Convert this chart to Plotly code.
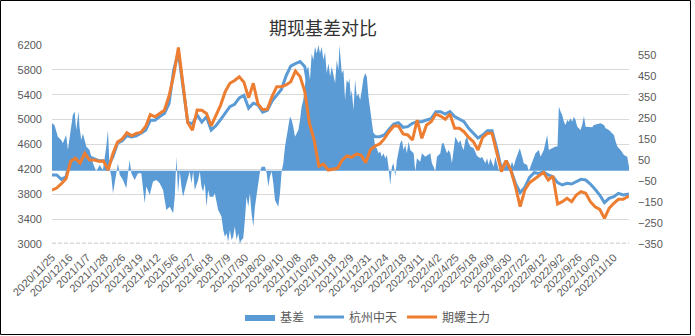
import plotly.graph_objects as go

# ---------------- data ----------------
tick_labels = ["2020/11/25", "2020/12/16", "2021/1/7", "2021/1/28", "2021/2/26", "2021/3/19",
               "2021/4/12", "2021/5/6", "2021/5/27", "2021/6/18", "2021/7/9", "2021/7/30",
               "2021/8/20", "2021/9/10", "2021/10/8", "2021/10/28", "2021/11/18", "2021/12/9",
               "2021/12/31", "2022/1/24", "2022/2/18", "2022/3/11", "2022/4/2", "2022/4/25",
               "2022/5/18", "2022/6/9", "2022/6/30", "2022/7/22", "2022/8/12", "2022/9/2",
               "2022/9/26", "2022/10/20", "2022/11/10"]
tick_pos = [i * 15 for i in range(len(tick_labels))]   # category index of each label
n_days = 494

# trading-day index of sampled line points
line_idx = list(range(0, 493, 4)) + [493]

futures = [3868, 3900, 3970, 4050, 4330, 4380, 4300, 4458, 4350, 4351, 4330, 4335, 4190, 4450,
           4640, 4690, 4790, 4740, 4780, 4795, 4890, 5080, 5045, 5100, 5150, 5380, 5720, 6160,
           5590, 4950, 4830, 5155, 5150, 5100, 4900, 5080, 5230, 5450, 5584, 5630, 5690, 5600,
           5350, 5584, 5250, 5160, 5170, 5370, 5530, 5530, 5557, 5610, 5780, 5691, 5450, 4940,
           4672, 4254, 4286, 4190, 4200, 4217, 4351, 4415, 4394, 4447, 4431, 4308, 4512, 4576,
           4608, 4694, 4806, 4898, 4898, 4769, 4753, 4672, 4994, 4699, 4914, 4967, 5090, 5058,
           5005, 5090, 4860, 4860, 4806, 4715, 4646, 4512, 4715, 4780, 4780, 4469, 4163, 4340,
           4190, 3922, 3600, 3868, 3986, 4040, 4093, 4152, 4029, 4093, 3643, 3681, 3734, 3681,
           3788, 3842, 3815, 3681, 3600, 3557, 3413, 3574, 3654, 3718, 3718, 3761, 3772]

spot = [4110, 4110, 4040, 4080, 4380, 4420, 4380, 4500, 4400, 4370, 4340, 4340, 4250, 4400,
        4620, 4660, 4740, 4720, 4740, 4780, 4830, 4990, 4990, 5048, 5100, 5260, 5800, 6080,
        5550, 4960, 4930, 5075, 4960, 5048, 4830, 4900, 5000, 5100, 5209, 5245, 5350, 5390,
        5185, 5265, 5235, 5120, 5150, 5300, 5390, 5486, 5703, 5860, 5900, 5933, 5851, 5405,
        5232, 4846, 4830, 4694, 4640, 4745, 4824, 4848, 4779, 4800, 4784, 4773, 4802, 4726,
        4726, 4753, 4844, 4930, 4951, 4876, 4887, 4940, 4967, 4967, 4994, 5015, 5128, 5128,
        5090, 5128, 5048, 5005, 4967, 4860, 4790, 4705, 4753, 4822, 4822, 4538, 4201, 4340,
        4190, 3976, 3826, 3911, 4072, 4147, 4136, 4158, 4110, 4083, 3986, 3949, 3976, 3965,
        4002, 4040, 4029, 3965, 3880, 3788, 3665, 3734, 3761, 3815, 3788, 3804, 3804]

basis_idx = [0, 2.1, 5, 7.8, 9.3, 12.1, 13.6, 15, 17.8, 19.3, 20.7, 22.7, 23.5, 25, 26.4, 29.3,
             32.1, 35, 36.4, 37.8, 40.7, 43.5, 46.4, 47.8, 49.2, 50.7, 52.1, 54.9, 56.4, 57.8,
             60.6, 63.5, 66.3, 67.8, 70.6, 73.5, 76.3, 79.2, 80.6, 83.5, 86.3, 89.2, 92, 94.9,
             97.7, 100.6, 103.5, 104.9, 106.3, 107.7, 109.2, 110.6, 112, 114.9, 117.7, 119.1,
             120.6, 122, 124.9, 126.3, 127.7, 129.1, 130.6, 132, 133.4, 134.8, 137.7, 139.1,
             140.5, 142, 144.8, 146.3, 147.7, 149.1, 150.5, 152, 153.4, 154.8, 156.2, 157.7,
             159.1, 160.5, 161.9, 163.4, 164.8, 166.2, 167.7, 169.1, 170.5, 172, 173.4, 174.8,
             176.2, 177.7, 179.1, 182, 183.4, 184.8, 186.2, 187.7, 189.1, 190.5, 193.3, 194.8,
             196.2, 197.6, 199.1, 200.5, 201.9, 203.3, 204.8, 206.2, 207.6, 210.5, 211.9, 213.3,
             214.7, 216.2, 217.6, 219, 220.4, 221.9, 223.3, 224.7, 226.2, 227.6, 229, 230.4,
             231.9, 233.3, 234.7, 236.2, 237.6, 239, 240.4, 241.9, 243.3, 244.7, 245.6, 246.7,
             247.6, 249, 250.4, 251.8, 253.3, 254.1, 255.3, 256.1, 257.6, 259, 260.4, 261.8,
             263.3, 264.7, 266.1, 267.6, 269, 270.4, 271.8, 273.3, 274.7, 276.1, 277.5, 279,
             280.4, 281.8, 283.3, 284.7, 286.1, 287.5, 289, 290.4, 291.8, 293.3, 294.7, 296.1,
             297.5, 299, 300.4, 301.8, 303.2, 304.7, 306.1, 309, 310.4, 311.8, 314.6, 316.1,
             318.9, 323.2, 324.6, 326, 327.5, 328.9, 331.8, 333.2, 334.6, 336, 337.5, 338.9,
             340.3, 341.7, 343.2, 344.6, 347.5, 348.9, 350.3, 351.7, 353.2, 354.6, 356, 357.5,
             360.3, 363.2, 366, 367.4, 370.3, 371.7, 373.1, 374.5, 377.4, 378.8, 381.7, 384.6,
             386, 387.4, 388.8, 391.7, 393.1, 394.5, 396, 398.9, 399.7, 401.7, 403.1, 406,
             407.4, 408.8, 411.7, 413.1, 416, 417.4, 420.2, 421.6, 423.1, 424.5, 427.3, 430.2,
             431.9, 433.1, 434.5, 435.9, 437.4, 438.8, 440.2, 441.6, 443.1, 444.5, 445.9, 447.3,
             448.8, 451.6, 453, 454.5, 455.9, 458.7, 461.6, 463, 465.9, 468.7, 471.6, 473, 475.9,
             478.7, 480.1, 481.6, 483, 485.8, 488.7, 491.5, 493]

basis = [226, 218, 162, 146, 131, 170, 99, 162, 266, 282, 194, 282, 210, 146, 178, 115,
         99, 35, 19, -4, 27, 3, 115, 194, 11, -28, -108, -4, 35, -20,
         -44, -84, 51, -12, -44, -12, -12, -156, -76, -116, -52, -44, -60, -92,
         -188, -172, -203, -124, 67, -108, -4, -76, -124, -60, -4, -60,
         -4, -92, -44, -4, -76, -100, -60, -172, -92, -124, -124, -108,
         -156, -188, -219, -283, -315, -299, -339, -283, -331, -315, -267, -331,
         -299, -347, -331, -323, -235, -124, -172, -108, -203, -267, -172, -124,
         -60, -4, 19, 19, -12, -76, -28, -4, -60, -140, -172, -108,
         -4, 35, 115, 162, 210, 258, 242, 210, 162, 194, 242, 306,
         337, 409, 481, 497, 433, 560, 528, 592, 560, 600, 560, 592,
         528, 568, 465, 513, 450, 497, 465, 417, 528, 481, 600, 528,
         465, 481, 337, 433, 417, 441, 353, 385, 290, 433, 353, 369,
         337, 385, 441, 465, 449, 353, 290, 242, 162, 115, 107, 83,
         91, 67, 83, 59, 75, 19, -68, 19, 35, -28, 51, 99,
         131, 146, 99, 123, 83, 139, 99, 83, -4, 59, 43, 83,
         67, 83, 35, 19, -4, 67, 83, 131, 131, 107, 83, 99,
         83, 35, 115, 162, 131, 146, 115, 99, 146, 162, 131, 115,
         107, 70, 59, 67, 35, 59, 27, 59, 19, 67, 3, 11,
         35, 19, 51, 19, 43, 19, 51, 99, 107, 67, 35, 27,
         -4, 19, 59, 83, 99, 67, 99, 131, 170, 99, 107, 115,
         115, 306, 282, 266, 234, 218, 242, 234, 250, 234, 258, 242,
         210, 194, 218, 261, 210, 207, 207, 218, 223, 226, 218, 202, 194,
         178, 170, 139, 115, 99, 75, 67, 19]

# ---------------- styling ----------------
BLUE = "#5B9BD5"
ORANGE = "#ED7D31"
TXT = "#595959"
FONT = "Liberation Sans, Noto Sans CJK SC, sans-serif"

fig = go.Figure()
fig.add_trace(go.Scatter(x=basis_idx, y=basis, name="基差", mode="lines",
                         line=dict(width=0, color=BLUE), fill="tozeroy",
                         fillcolor=BLUE, yaxis="y"))
fig.add_trace(go.Scatter(x=line_idx, y=spot, name="杭州中天", mode="lines",
                         line=dict(width=3, color=BLUE), yaxis="y2"))
fig.add_trace(go.Scatter(x=line_idx, y=futures, name="期螺主力", mode="lines",
                         line=dict(width=3, color=ORANGE), yaxis="y2"))

W, H = 695, 336
L, R, T, B = 52, 66, 45, 92
pw, ph = W - L - R, H - T - B

def px(x):
    return (x - L) / pw

def py(y):
    return (H - B - y) / ph

fig.update_layout(
    width=W, height=H,
    margin=dict(l=L, r=R, t=T, b=B, pad=0, autoexpand=False),
    paper_bgcolor="white", plot_bgcolor="white",
    font=dict(family=FONT, size=11, color=TXT),
    title=dict(text="期现基差对比", x=323 / W, xref="container", xanchor="center",
               y=1 - 29 / H, yref="container", yanchor="middle",
               font=dict(family="Noto Sans CJK SC", size=18, color="#333333")),
    showlegend=True,
    legend=dict(orientation="h", x=px(368), xanchor="center", y=py(317), yanchor="middle",
                font=dict(family="Noto Sans CJK SC", size=12, color=TXT),
                bgcolor="rgba(0,0,0,0)", itemwidth=30, tracegroupgap=0),
    xaxis=dict(range=[0, n_days - 1], tickvals=tick_pos, ticktext=tick_labels,
               tickangle=-45, showgrid=False, zeroline=False, showline=False,
               automargin=False,
               ticks="", ticklabelstandoff=4, tickfont=dict(size=11, color=TXT)),
    yaxis=dict(side="right", range=[-350, 600], tickvals=list(range(-350, 551, 100)),
               showgrid=False, zeroline=False, showline=False, ticks="", automargin=False,
               ticklabelstandoff=8, tickfont=dict(size=11, color=TXT)),
    yaxis2=dict(side="left", overlaying="y", range=[3000, 6200], dtick=400, tick0=3000,
                showgrid=True, gridcolor="#D9D9D9", gridwidth=1, zeroline=False,
                showline=False, ticks="", ticklabelstandoff=9, automargin=False,
                tickfont=dict(size=11, color=TXT)),
    shapes=[
        dict(type="line", xref="paper", yref="y2", x0=0, x1=1, y0=3000, y1=3000,
             line=dict(color="#D9D9D9", width=3, dash="4px,2px"), layer="below"),
        dict(type="rect", xref="paper", yref="paper", x0=px(0.5), x1=px(690.5),
             y0=py(334.5), y1=py(0.5), line=dict(color="black", width=1),
             fillcolor="rgba(0,0,0,0)", layer="above"),
    ],
)

fig.write_html("out.html")
